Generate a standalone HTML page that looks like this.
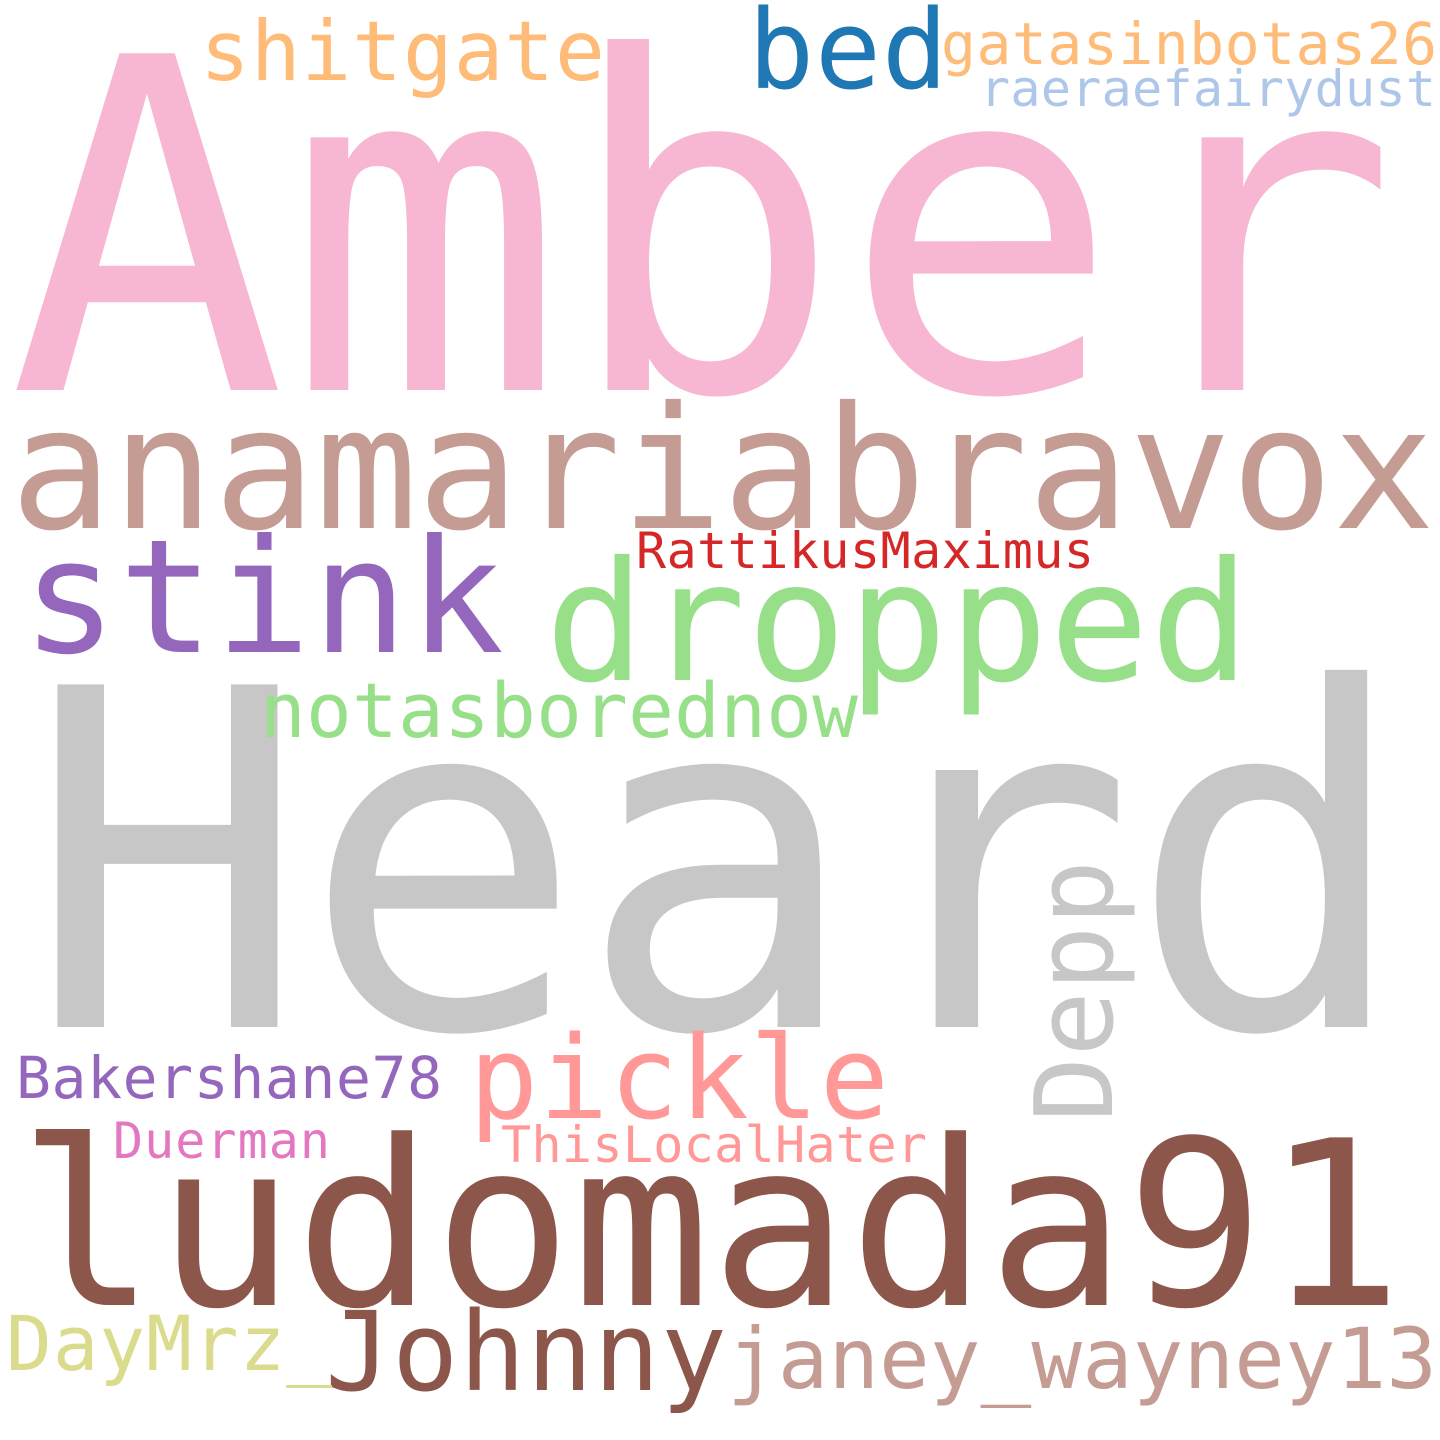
<!DOCTYPE html>
<html>
<head>
<meta charset="utf-8">
<style>
html,body{margin:0;padding:0;background:#fff;}
svg{display:block;}
text{font-family:"DejaVu Sans Mono","Liberation Mono",monospace;}
</style>
</head>
<body>
<svg width="1440" height="1440" viewBox="0 0 1440 1440">
<rect width="1440" height="1440" fill="#fff"/>
<text x="8" y="390" font-size="462" fill="#f7b6d2" textLength="1390">Amber</text>
<text x="26" y="1027" font-size="470" fill="#c7c7c7" textLength="1385">Heard</text>
<text x="10" y="528" font-size="170" fill="#c49c94" textLength="1425">anamariabravox</text>
<text x="18" y="1305" font-size="230" fill="#8c564b" textLength="1385">ludomada91</text>
<text x="545" y="680" font-size="166" fill="#98df8a" textLength="705">dropped</text>
<text x="22" y="652" font-size="158" fill="#9467bd" textLength="482">stink</text>
<text x="260" y="737" font-size="76" fill="#98df8a" textLength="598">notasborednow</text>
<text x="636" y="568" font-size="50" fill="#d62728" textLength="458">RattikusMaximus</text>
<text x="200" y="80" font-size="83" fill="#ffbb78" textLength="405">shitgate</text>
<text x="748" y="88" font-size="110" fill="#1f77b4" textLength="200">bed</text>
<text x="941" y="64" font-size="58" fill="#ffbb78" textLength="496">gatasinbotas26</text>
<text x="980" y="106" font-size="50" fill="#aec7e8" textLength="456">raeraefairydust</text>
<text x="0" y="0" font-size="108" fill="#c7c7c7" textLength="262" transform="translate(1112,1122) rotate(-90)">Depp</text>
<text x="469" y="1118" font-size="115" fill="#ff9896" textLength="420">pickle</text>
<text x="16" y="1098" font-size="58" fill="#9467bd" textLength="426">Bakershane78</text>
<text x="113" y="1158" font-size="50" fill="#e377c2" textLength="217">Duerman</text>
<text x="501" y="1162" font-size="50" fill="#ff9896" textLength="426">ThisLocalHater</text>
<text x="325" y="1390" font-size="110" fill="#8c564b" textLength="402">Johnny</text>
<text x="6" y="1370" font-size="76" fill="#dbdb8d" textLength="326">DayMrz_</text>
<text x="727" y="1388" font-size="84" fill="#c49c94" textLength="710">janey_wayney13</text>
</svg>
</body>
</html>
